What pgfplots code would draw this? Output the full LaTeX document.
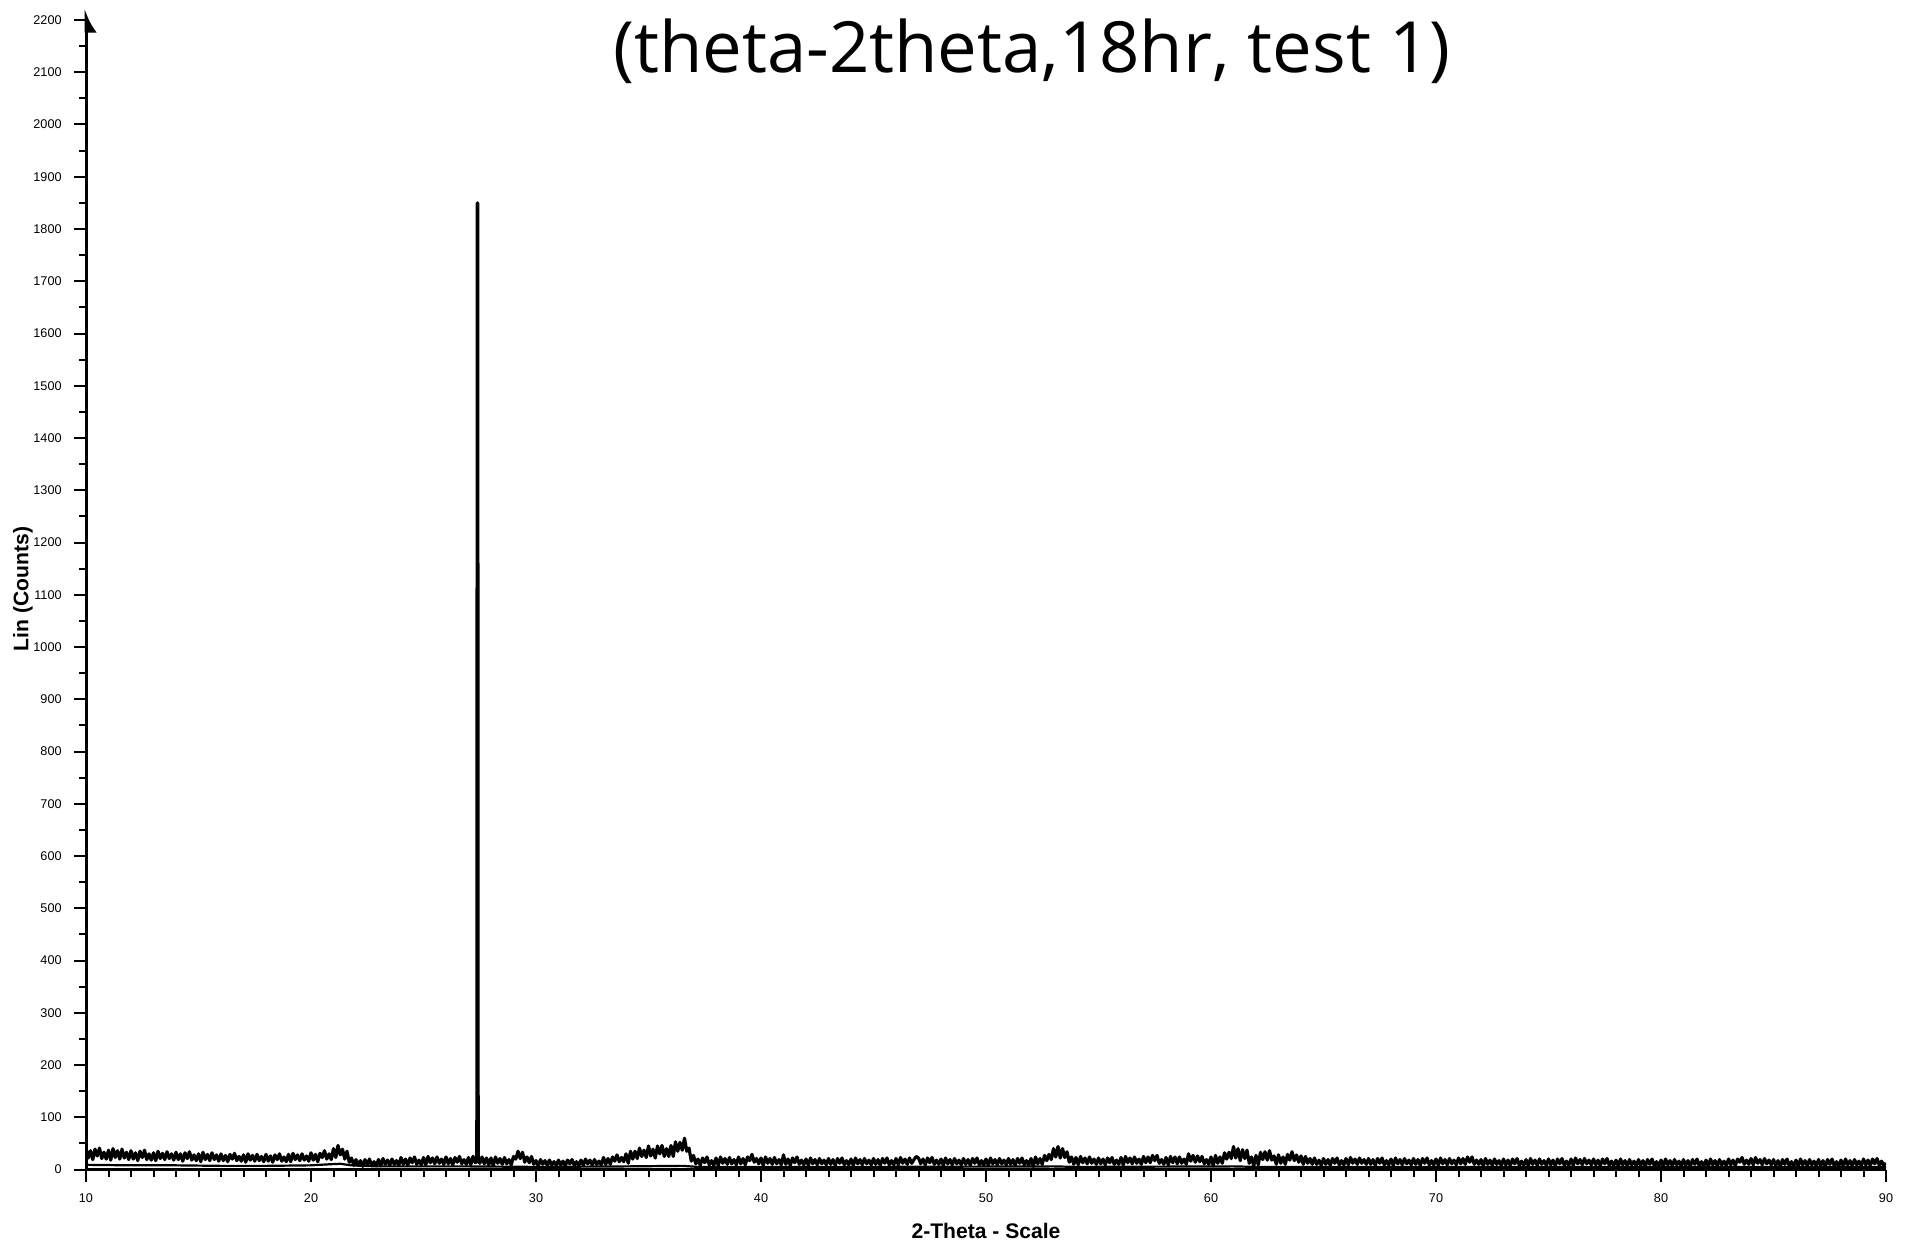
\documentclass[border=0pt]{standalone}
\usepackage{fontspec}
\setmainfont{Liberation Sans}
\newfontfamily\titlefont{Open Sans}
\usepackage{pgfplots}
\pgfplotsset{compat=1.18}
\usetikzlibrary{arrows.meta}

\begin{document}
\begin{tikzpicture}
\begin{axis}[
  name=ax,
  scale only axis,
  width=180mm, height=116.1mm,
  xmin=10, xmax=90, ymin=0, ymax=2222,
  axis x line=bottom, axis y line=left,
  x axis line style={-, line width=0.3mm},
  y axis line style={-{Latex[harpoon,swap,length=2mm,width=2.2mm]}, line width=0.3mm},
  xtick={10,20,...,90}, minor x tick num=9,
  ytick={0,100,...,2200}, minor y tick num=1,
  tick align=outside,
  major tick length=1.2mm, minor tick length=0.7mm,
  tick style={black, line width=0.2mm},
  /pgf/number format/assume math mode=true,
  /pgf/number format/1000 sep={},
  ticklabel style={font=\fontsize{3.6}{4}\selectfont},
  xlabel={2-Theta - Scale},
  ylabel={Lin (Counts)},
  xlabel style={font=\bfseries\fontsize{6}{7}\selectfont, inner sep=0pt, at={([yshift=-6.1mm]axis description cs:0.5,0)}, anchor=center},
  ylabel style={font=\bfseries\fontsize{6}{7}\selectfont, inner sep=0pt, at={([xshift=-6.3mm]axis description cs:0,0.5)}, anchor=center},
]
% measured scan
\addplot[black, line width=0.32mm, line join=round] coordinates {
(10.0,40)(10.1,22)(10.2,36)(10.3,19)(10.4,39)(10.5,26)(10.6,41)(10.7,21)(10.8,33)(10.9,20)
(11.0,37)(11.1,18)(11.2,40)(11.3,23)(11.4,36)(11.5,20)(11.6,39)(11.7,22)(11.8,33)(11.9,19)
(12.0,36)(12.1,20)(12.2,32)(12.3,17)(12.4,35)(12.5,23)(12.6,37)(12.7,19)(12.8,30)(12.9,18)
(13.0,32)(13.1,17)(13.2,35)(13.3,21)(13.4,31)(13.5,19)(13.6,34)(13.7,21)(13.8,30)(13.9,18)
(14.0,33)(14.1,19)(14.2,30)(14.3,16)(14.4,32)(14.5,21)(14.6,34)(14.7,18)(14.8,28)(14.9,17)
(15.0,30)(15.1,15)(15.2,33)(15.3,19)(15.4,29)(15.5,17)(15.6,32)(15.7,19)(15.8,28)(15.9,16)
(16.0,30)(16.1,17)(16.2,27)(16.3,15)(16.4,29)(16.5,20)(16.6,31)(16.7,17)(16.8,25)(16.9,16)
(17.0,28)(17.1,14)(17.2,30)(17.3,18)(17.4,27)(17.5,16)(17.6,29)(17.7,17)(17.8,25)(17.9,15)
(18.0,29)(18.1,16)(18.2,26)(18.3,14)(18.4,28)(18.5,19)(18.6,30)(18.7,16)(18.8,24)(18.9,15)
(19.0,29)(19.1,15)(19.2,31)(19.3,19)(19.4,28)(19.5,17)(19.6,30)(19.7,18)(19.8,26)(19.9,16)
(20.0,32)(20.1,18)(20.2,29)(20.3,15)(20.4,31)(20.5,23)(20.6,36)(20.7,20)(20.8,30)(20.9,19)
(21.0,40)(21.1,23)(21.2,46)(21.3,28)(21.4,39)(21.5,20)(21.6,35)(21.7,14)(21.8,22)(21.9,8)
(22.0,19)(22.1,8)(22.2,17)(22.3,6)(22.4,19)(22.5,10)(22.6,20)(22.7,7)(22.8,15)(22.9,7)
(23.0,19)(23.1,7)(23.2,21)(23.3,10)(23.4,18)(23.5,8)(23.6,20)(23.7,10)(23.8,17)(23.9,8)
(24.0,23)(24.1,10)(24.2,20)(24.3,8)(24.4,22)(24.5,13)(24.6,24)(24.7,10)(24.8,18)(24.9,9)
(25.0,23)(25.1,9)(25.2,25)(25.3,13)(25.4,22)(25.5,11)(25.6,24)(25.7,12)(25.8,20)(25.9,10)
(26.0,24)(26.1,11)(26.2,21)(26.3,9)(26.4,23)(26.5,14)(26.6,25)(26.7,11)(26.8,19)(26.9,10)
(27.0,23)(27.1,9)(27.2,25)(27.3,13)(27.37,16)(27.39,1850)(27.41,1850)(27.43,16)
(27.5,12)(27.6,24)(27.7,11)(27.8,22)(27.9,9)
(28.0,22)(28.1,8)(28.2,24)(28.3,12)(28.4,21)(28.5,10)(28.6,23)(28.7,11)(28.8,19)(28.9,9)
(29.0,25)(29.1,20)(29.2,35)(29.3,21)(29.4,33)(29.5,14)(29.6,24)(29.7,13)(29.8,25)(29.9,10)
(30.0,17)(30.1,7)(30.2,19)(30.3,10)(30.4,17)(30.5,8)(30.6,18)(30.7,9)(30.8,15)(30.9,8)
(31.0,18)(31.1,9)(31.2,16)(31.3,7)(31.4,18)(31.5,11)(31.6,19)(31.7,8)(31.8,15)(31.9,8)
(32.0,18)(32.1,8)(32.2,20)(32.3,11)(32.4,18)(32.5,9)(32.6,19)(32.7,10)(32.8,16)(32.9,9)
(33.0,23)(33.1,10)(33.2,21)(33.3,10)(33.4,24)(33.5,16)(33.6,28)(33.7,15)(33.8,23)(33.9,15)
(34.0,30)(34.1,12)(34.2,35)(34.3,20)(34.4,35)(34.5,21)(34.6,41)(34.7,25)(34.8,37)(34.9,23)
(35.0,45)(35.1,26)(35.2,39)(35.3,22)(35.4,45)(35.5,30)(35.6,46)(35.7,25)(35.8,40)(35.9,25)
(36.0,46)(36.1,25)(36.2,53)(36.3,35)(36.4,52)(36.5,37)(36.6,60)(36.7,35)(36.8,41)(36.9,16)
(37.0,27)(37.1,11)(37.2,20)(37.3,8)(37.4,22)(37.5,13)(37.6,24)(37.7,9)(37.8,17)(37.9,8)
(38.0,22)(38.1,8)(38.2,24)(38.3,12)(38.4,21)(38.5,10)(38.6,23)(38.7,11)(38.8,19)(38.9,9)
(39.0,24)(39.1,11)(39.2,21)(39.3,9)(39.4,24)(39.5,17)(39.6,29)(39.7,14)(39.8,21)(39.9,11)
(40.0,22)(40.1,8)(40.2,24)(40.3,12)(40.4,21)(40.5,10)(40.6,23)(40.7,11)(40.8,19)(40.9,9)
(41.0,28)(41.1,10)(41.2,20)(41.3,8)(41.4,22)(41.5,13)(41.6,24)(41.7,10)(41.8,18)(41.9,9)
(42.0,20)(42.1,8)(42.2,22)(42.3,11)(42.4,19)(42.5,9)(42.6,21)(42.7,11)(42.8,18)(42.9,9)
(43.0,21)(43.1,10)(43.2,19)(43.3,8)(43.4,21)(43.5,12)(43.6,22)(43.7,9)(43.8,17)(43.9,9)
(44.0,20)(44.1,8)(44.2,22)(44.3,11)(44.4,19)(44.5,9)(44.6,21)(44.7,11)(44.8,18)(44.9,9)
(45.0,21)(45.1,10)(45.2,19)(45.3,8)(45.4,21)(45.5,12)(45.6,22)(45.7,9)(45.8,17)(45.9,9)
(46.0,21)(46.1,9)(46.2,23)(46.3,12)(46.4,20)(46.5,10)(46.6,22)(46.7,12)(46.8,19)(46.9,25)
(47.0,22)(47.1,11)(47.2,20)(47.3,9)(47.4,22)(47.5,13)(47.6,23)(47.7,10)(47.8,18)(47.9,10)
(48.0,20)(48.1,8)(48.2,22)(48.3,11)(48.4,19)(48.5,9)(48.6,21)(48.7,11)(48.8,18)(48.9,9)
(49.0,21)(49.1,10)(49.2,19)(49.3,8)(49.4,21)(49.5,12)(49.6,22)(49.7,9)(49.8,17)(49.9,9)
(50.0,20)(50.1,8)(50.2,22)(50.3,11)(50.4,19)(50.5,9)(50.6,21)(50.7,11)(50.8,18)(50.9,9)
(51.0,21)(51.1,10)(51.2,19)(51.3,8)(51.4,21)(51.5,12)(51.6,22)(51.7,9)(51.8,17)(51.9,9)
(52.0,21)(52.1,6)(52.2,24)(52.3,11)(52.4,21)(52.5,10)(52.6,27)(52.7,17)(52.8,29)(52.9,19)
(53.0,40)(53.1,24)(53.2,44)(53.3,22)(53.4,40)(53.5,23)(53.6,34)(53.7,14)(53.8,24)(53.9,10)
(54.0,23)(54.1,9)(54.2,25)(54.3,13)(54.4,22)(54.5,11)(54.6,24)(54.7,12)(54.8,20)(54.9,10)
(55.0,22)(55.1,11)(55.2,20)(55.3,9)(55.4,22)(55.5,13)(55.6,23)(55.7,10)(55.8,18)(55.9,10)
(56.0,23)(56.1,9)(56.2,25)(56.3,13)(56.4,22)(56.5,11)(56.6,24)(56.7,12)(56.8,20)(56.9,10)
(57.0,25)(57.1,13)(57.2,24)(57.3,13)(57.4,27)(57.5,17)(57.6,27)(57.7,12)(57.8,19)(57.9,10)
(58.0,23)(58.1,9)(58.2,25)(58.3,13)(58.4,24)(58.5,11)(58.6,24)(58.7,12)(58.8,20)(58.9,10)
(59.0,30)(59.1,16)(59.2,27)(59.3,14)(59.4,26)(59.5,15)(59.6,25)(59.7,11)(59.8,19)(59.9,10)
(60.0,24)(60.1,7)(60.2,27)(60.3,12)(60.4,24)(60.5,12)(60.6,32)(60.7,20)(60.8,33)(60.9,21)
(61.0,44)(61.1,22)(61.2,40)(61.3,17)(61.4,38)(61.5,21)(61.6,37)(61.7,12)(61.8,24)(61.9,7)
(62.0,27)(62.1,9)(62.2,33)(62.3,19)(62.4,34)(62.5,18)(62.6,36)(62.7,18)(62.8,26)(62.9,10)
(63.0,28)(63.1,12)(63.2,24)(63.3,10)(63.4,29)(63.5,18)(63.6,34)(63.7,17)(63.8,28)(63.9,14)
(64.0,26)(64.1,10)(64.2,25)(64.3,12)(64.4,21)(64.5,10)(64.6,22)(64.7,10)(64.8,18)(64.9,8)
(65.0,21)(65.1,10)(65.2,19)(65.3,8)(65.4,21)(65.5,12)(65.6,22)(65.7,9)(65.8,17)(65.9,9)
(66.0,21)(66.1,9)(66.2,23)(66.3,12)(66.4,20)(66.5,10)(66.6,22)(66.7,12)(66.8,19)(66.9,10)
(67.0,21)(67.1,10)(67.2,19)(67.3,8)(67.4,21)(67.5,12)(67.6,22)(67.7,9)(67.8,17)(67.9,9)
(68.0,20)(68.1,8)(68.2,22)(68.3,11)(68.4,19)(68.5,9)(68.6,21)(68.7,11)(68.8,18)(68.9,9)
(69.0,21)(69.1,10)(69.2,19)(69.3,8)(69.4,21)(69.5,12)(69.6,22)(69.7,9)(69.8,17)(69.9,9)
(70.0,20)(70.1,8)(70.2,22)(70.3,11)(70.4,19)(70.5,9)(70.6,21)(70.7,11)(70.8,18)(70.9,9)
(71.0,22)(71.1,11)(71.2,21)(71.3,10)(71.4,24)(71.5,14)(71.6,24)(71.7,10)(71.8,18)(71.9,10)
(72.0,19)(72.1,7)(72.2,21)(72.3,10)(72.4,18)(72.5,8)(72.6,20)(72.7,10)(72.8,17)(72.9,8)
(73.0,20)(73.1,9)(73.2,18)(73.3,7)(73.4,20)(73.5,11)(73.6,21)(73.7,8)(73.8,16)(73.9,8)
(74.0,19)(74.1,7)(74.2,21)(74.3,10)(74.4,18)(74.5,8)(74.6,20)(74.7,10)(74.8,17)(74.9,8)
(75.0,20)(75.1,9)(75.2,18)(75.3,7)(75.4,20)(75.5,11)(75.6,21)(75.7,8)(75.8,16)(75.9,8)
(76.0,20)(76.1,8)(76.2,22)(76.3,11)(76.4,19)(76.5,9)(76.6,21)(76.7,11)(76.8,18)(76.9,9)
(77.0,20)(77.1,9)(77.2,18)(77.3,7)(77.4,20)(77.5,11)(77.6,21)(77.7,8)(77.8,16)(77.9,8)
(78.0,18)(78.1,6)(78.2,20)(78.3,9)(78.4,17)(78.5,7)(78.6,19)(78.7,9)(78.8,16)(78.9,7)
(79.0,19)(79.1,8)(79.2,17)(79.3,6)(79.4,19)(79.5,10)(79.6,20)(79.7,7)(79.8,15)(79.9,7)
(80.0,18)(80.1,6)(80.2,20)(80.3,9)(80.4,17)(80.5,7)(80.6,19)(80.7,9)(80.8,16)(80.9,7)
(81.0,19)(81.1,8)(81.2,17)(81.3,6)(81.4,19)(81.5,10)(81.6,20)(81.7,7)(81.8,15)(81.9,7)
(82.0,18)(82.1,6)(82.2,20)(82.3,9)(82.4,17)(82.5,7)(82.6,19)(82.7,9)(82.8,16)(82.9,7)
(83.0,20)(83.1,9)(83.2,18)(83.3,7)(83.4,20)(83.5,14)(83.6,23)(83.7,10)(83.8,18)(83.9,10)
(84.0,21)(84.1,9)(84.2,23)(84.3,12)(84.4,19)(84.5,9)(84.6,21)(84.7,11)(84.8,18)(84.9,9)
(85.0,19)(85.1,8)(85.2,17)(85.3,6)(85.4,19)(85.5,10)(85.6,20)(85.7,7)(85.8,15)(85.9,7)
(86.0,18)(86.1,6)(86.2,20)(86.3,9)(86.4,17)(86.5,7)(86.6,19)(86.7,9)(86.8,16)(86.9,7)
(87.0,19)(87.1,8)(87.2,17)(87.3,6)(87.4,19)(87.5,10)(87.6,20)(87.7,7)(87.8,15)(87.9,7)
(88.0,18)(88.1,6)(88.2,20)(88.3,9)(88.4,17)(88.5,7)(88.6,19)(88.7,9)(88.8,16)(88.9,7)
(89.0,20)(89.1,9)(89.2,18)(89.3,7)(89.4,20)(89.5,11)(89.6,21)(89.7,8)(89.8,16)(89.9,8)
(90.0,12)
};
% lower trace
\addplot[black, line width=0.22mm] coordinates {
(10,9)(12,8)(14,8)(16,7)(18,7)(20,8)(20.8,10)(21.3,11)(21.8,8)(23,6)(27,6)
(30,5)(34,6)(36.5,7)(37.2,5)(45,5)(53,6)(54,5)(61,6)(62,5)(70,5)(80,5)(90,5)
};
\end{axis}
\node[font=\titlefont\fontsize{20.1}{21}\selectfont, anchor=base, inner sep=0pt]
  at ([xshift=94.6mm, yshift=109.75mm]ax.south west) {(theta-2theta,18hr, test 1)};
\path ([xshift=-8.6mm, yshift=-7.05mm]ax.south west) rectangle ++(190.9mm,124mm);
\end{tikzpicture}
\end{document}
